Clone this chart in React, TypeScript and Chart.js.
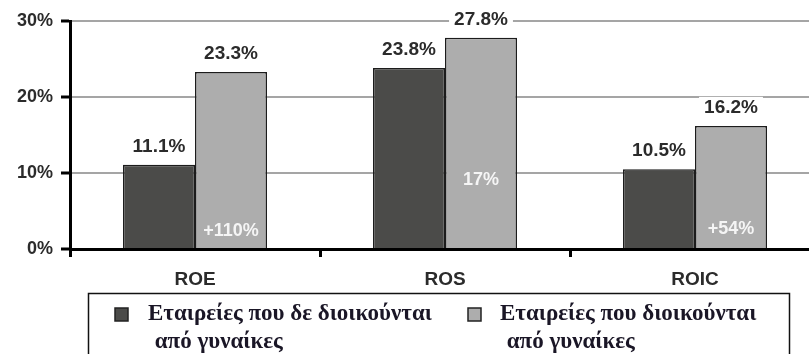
import React, { useEffect, useRef } from 'react';
import { Chart, registerables } from 'chart.js';

Chart.register(...registerables);

// Profitability ratios by company leadership
const categories = ['ROE', 'ROS', 'ROIC'];
const notLedByWomen = [11.1, 23.8, 10.5];
const ledByWomen = [23.3, 27.8, 16.2];
const differenceLabels = ['+110%', '17%', '+54%'];
const legendLines = [
  ['Εταιρείες που δε διοικούνται', ' από γυναίκες'],
  ['Εταιρείες που διοικούνται', ' από γυναίκες'],
];

const DARK = '#4b4b49';
const LIGHT = '#adadad';
const EDGE = '#1c1c1c';
const TEXT = '#2b2b2b';
const SANS = '"Liberation Sans", Arial, sans-serif';
const SERIF = '"Liberation Serif", "DejaVu Serif", serif';

// Vertical offsets (px above the base) for the white difference labels
const differenceOffsets = [17, 68, 19];

const valueLabels = {
  id: 'valueLabels',
  afterDatasetsDraw(chart: any) {
    const ctx = chart.ctx;
    ctx.save();
    ctx.font = `bold 19px ${SANS}`;
    ctx.textAlign = 'center';
    ctx.textBaseline = 'middle';
    chart.data.datasets.forEach((ds: any, di: number) => {
      const meta = chart.getDatasetMeta(di);
      meta.data.forEach((bar: any, i: number) => {
        const text = ds.data[i].toFixed(1) + '%';
        const w = ctx.measureText(text).width;
        const cy = bar.y - 18;
        ctx.fillStyle = '#ffffff';
        ctx.fillRect(bar.x - w / 2 - 5, cy - 11, w + 10, 22);
        ctx.fillStyle = TEXT;
        ctx.fillText(text, bar.x, cy);
      });
    });
    // differences drawn inside the bars of the second series
    const meta = chart.getDatasetMeta(1);
    ctx.font = `bold 18px ${SANS}`;
    ctx.fillStyle = 'rgba(255,255,255,0.88)';
    meta.data.forEach((bar: any, i: number) => {
      ctx.fillText(differenceLabels[i], bar.x, bar.base - differenceOffsets[i]);
    });
    ctx.restore();
  },
};

const boxedLegend = {
  id: 'boxedLegend',
  afterDraw(chart: any) {
    const ctx = chart.ctx;
    ctx.save();
    ctx.strokeStyle = '#111111';
    ctx.lineWidth = 1.5;
    ctx.strokeRect(88.5, 293.5, 701, 80);
    const items = [
      { fill: DARK, sx: 115, tx: 148 },
      { fill: LIGHT, sx: 468, tx: 500 },
    ];
    items.forEach((it, i) => {
      ctx.fillStyle = it.fill;
      ctx.fillRect(it.sx, 308, 13, 13);
      ctx.lineWidth = 1.5;
      ctx.strokeStyle = '#222222';
      ctx.strokeRect(it.sx, 308, 13, 13);
      ctx.font = `bold 23px ${SERIF}`;
      ctx.fillStyle = '#1a1626';
      ctx.textAlign = 'left';
      ctx.textBaseline = 'middle';
      ctx.fillText(legendLines[i][0], it.tx, 314);
      ctx.fillText(legendLines[i][1], it.tx + 1, 342);
    });
    ctx.restore();
  },
};

export default function App() {
  const ref = useRef<HTMLCanvasElement>(null);

  useEffect(() => {
    if (!ref.current) return;
    const chart = new Chart(ref.current, {
      type: 'bar',
      data: {
        labels: categories,
        datasets: [
          {
            label: legendLines[0].join(''),
            data: notLedByWomen,
            backgroundColor: DARK,
            borderColor: EDGE,
            borderWidth: 1.5,
            categoryPercentage: 0.576,
            barPercentage: 1,
          },
          {
            label: legendLines[1].join(''),
            data: ledByWomen,
            backgroundColor: LIGHT,
            borderColor: EDGE,
            borderWidth: 1.5,
            categoryPercentage: 0.576,
            barPercentage: 1,
          },
        ],
      },
      options: {
        responsive: false,
        animation: false,
        devicePixelRatio: 1,
        layout: { padding: { top: 21, right: 10, left: 0, bottom: 0 } },
        plugins: { legend: { display: false }, tooltip: { enabled: false } },
        scales: {
          x: {
            afterFit(scale: any) {
              scale.height = 105;
            },
            grid: {
              drawOnChartArea: false,
              drawTicks: true,
              tickLength: 8,
              tickColor: '#000000',
              tickWidth: 3,
              offset: true,
            },
            border: { color: '#000000', width: 3 },
            ticks: {
              color: TEXT,
              font: { family: SANS, size: 19, weight: 'bold' },
              padding: 11,
            },
          },
          y: {
            min: 0,
            max: 30,
            afterFit(scale: any) {
              scale.width = 70;
            },
            grid: {
              color: '#a5a5a5',
              lineWidth: 2,
              tickColor: '#000000',
              tickLength: 9,
              tickWidth: 3,
            },
            border: { color: '#000000', width: 3 },
            ticks: {
              stepSize: 10,
              color: TEXT,
              font: { family: SANS, size: 18, weight: 'bold' },
              padding: 8,
              callback: (v: any) => v + '%',
            },
          },
        },
      },
      plugins: [valueLabels, boxedLegend],
    });
    return () => chart.destroy();
  }, []);

  return (
    <div
      style={{
        position: 'fixed',
        left: 0,
        top: 0,
        width: 809,
        height: 354,
        overflow: 'hidden',
        background: '#ffffff',
      }}
    >
      <canvas ref={ref} width={830} height={354} style={{ display: 'block' }} />
    </div>
  );
}
